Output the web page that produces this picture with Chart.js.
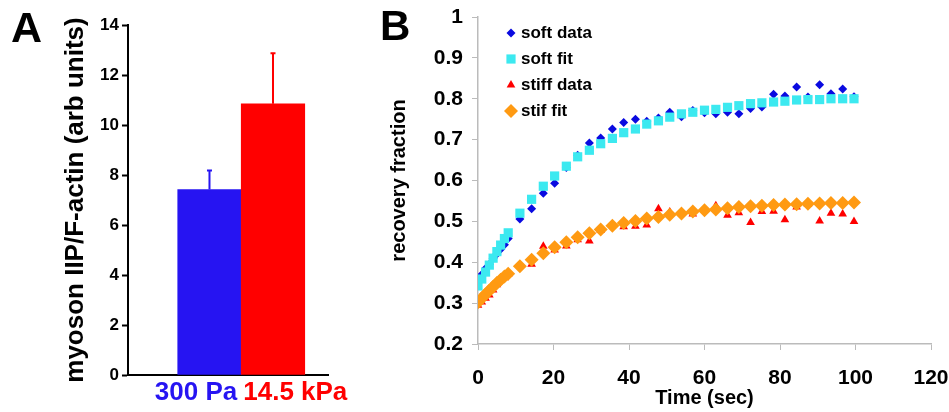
<!DOCTYPE html>
<html>
<head>
<meta charset="utf-8">
<script src="https://cdn.jsdelivr.net/npm/chart.js@4.4.0/dist/chart.umd.min.js"></script>
<style>
  html, body { margin: 0; padding: 0; background: #fff; }
  #panelA { position: absolute; left: 0; top: 0; }
  #panelB { position: absolute; left: 375px; top: 0; }
</style>
</head>
<body>
<canvas id="panelA" width="375" height="412"></canvas>
<canvas id="panelB" width="574" height="412"></canvas>
<script>
// Panel A: barras
const categorias = ['300 Pa', '14.5 kPa'];
const miosina = [7.42, 10.85];
const errores = [0.76, 2.02];
const coloresBarras = ['#2614f2', '#ff0000'];

// Panel B: recuperacion (tiempo en seg)
const tiempos = [0, 1, 2, 3, 4, 5, 6, 7, 8,
  11.1, 14.2, 17.3, 20.3, 23.4, 26.4, 29.5, 32.5, 35.6, 38.6,
  41.7, 44.7, 47.8, 50.8, 53.9, 56.9, 60.0, 63.0, 66.1, 69.1,
  72.2, 75.2, 78.3, 81.3, 84.4, 87.4, 90.5, 93.5, 96.6, 99.6];
const blandoDatos = [0.352, 0.370, 0.385, 0.395, 0.410, 0.420, 0.432, 0.443, 0.458,
  0.506, 0.531, 0.569, 0.593, 0.632, 0.662, 0.692, 0.704, 0.726, 0.742,
  0.750, 0.745, 0.753, 0.767, 0.756, 0.771, 0.766, 0.763, 0.767, 0.763,
  0.776, 0.780, 0.811, 0.807, 0.829, 0.804, 0.834, 0.812, 0.824, 0.805];
const blandoAjuste = [0.342, 0.359, 0.376, 0.393, 0.410, 0.426, 0.442, 0.458, 0.472,
  0.520, 0.554, 0.586, 0.611, 0.635, 0.658, 0.674, 0.690, 0.703, 0.717,
  0.726, 0.738, 0.746, 0.755, 0.763, 0.767, 0.772, 0.774, 0.779, 0.783,
  0.788, 0.790, 0.792, 0.794, 0.797, 0.798, 0.798, 0.800, 0.800, 0.800];
const rigidoDatos = [0.295, 0.303, 0.312, 0.320, 0.332, 0.345, 0.358, 0.362, 0.370,
  0.393, 0.395, 0.439, 0.430, 0.440, 0.455, 0.452, 0.478, 0.492, 0.487,
  0.488, 0.491, 0.531, 0.523, 0.519, 0.518, 0.530, 0.538, 0.515, 0.521,
  0.497, 0.524, 0.525, 0.504, 0.535, 0.541, 0.501, 0.520, 0.518, 0.500];
const rigidoAjuste = [0.302, 0.312, 0.322, 0.331, 0.340, 0.349, 0.357, 0.365, 0.372,
  0.390, 0.406, 0.422, 0.437, 0.449, 0.461, 0.471, 0.480, 0.489, 0.496,
  0.501, 0.507, 0.511, 0.516, 0.519, 0.524, 0.527, 0.529, 0.532, 0.535,
  0.537, 0.538, 0.540, 0.541, 0.542, 0.543, 0.544, 0.545, 0.545, 0.546];
const nombresSeries = ['soft data', 'soft fit', 'stiff data', 'stif fit'];
const ticksY = [0.2, 0.3, 0.4, 0.5, 0.6, 0.7, 0.8, 0.9, 1];

const fuente = "'Liberation Sans', Arial, Helvetica, sans-serif";

// Utilidades
function puntos(valores) {
  return tiempos.map((t, i) => ({ x: t, y: valores[i] }));
}

const barrasError = {
  id: 'barrasError',
  afterDatasetsDraw(chart) {
    const ctx = chart.ctx;
    const y = chart.scales.y;
    const meta = chart.getDatasetMeta(0);
    ctx.save();
    ctx.lineWidth = 2;
    meta.data.forEach((bar, i) => {
      const arriba = y.getPixelForValue(miosina[i] + errores[i]);
      ctx.strokeStyle = coloresBarras[i];
      ctx.beginPath();
      ctx.moveTo(bar.x, bar.y);
      ctx.lineTo(bar.x, arriba);
      ctx.moveTo(bar.x - 2.5, arriba);
      ctx.lineTo(bar.x + 2.5, arriba);
      ctx.stroke();
    });
    ctx.restore();
  }
};

const etiquetasA = {
  id: 'etiquetasA',
  afterDraw(chart) {
    const { ctx, chartArea } = chart;
    const x = chart.scales.x;
    const medio = (x.getPixelForValue(0) + x.getPixelForValue(1)) / 2;
    ctx.save();
    ctx.font = 'bold 26px ' + fuente;
    ctx.textBaseline = 'middle';
    ctx.fillStyle = coloresBarras[0];
    ctx.textAlign = 'right';
    ctx.fillText(categorias[0], medio - 4, chartArea.bottom + 18);
    ctx.fillStyle = coloresBarras[1];
    ctx.textAlign = 'left';
    ctx.fillText(categorias[1], medio + 2, chartArea.bottom + 18);
    ctx.fillStyle = '#000';
    ctx.textBaseline = 'alphabetic';
    ctx.font = 'bold 43px ' + fuente;
    ctx.fillText('A', 11, 42);
    ctx.restore();
  }
};

const leyendaB = {
  id: 'leyendaB',
  afterDraw(chart) {
    const { ctx, chartArea } = chart;
    ctx.save();
    ctx.font = 'bold 17px ' + fuente;
    ctx.textBaseline = 'middle';
    ctx.textAlign = 'left';
    chart.data.datasets.forEach((ds, i) => {
      const yy = chartArea.top + 16 + 26 * i;
      const xx = chartArea.left + 33;
      ctx.fillStyle = ds.pointBackgroundColor;
      Chart.helpers.drawPoint(ctx, { pointStyle: ds.pointStyle, radius: ds.pointRadius, rotation: 0, borderWidth: 0 }, xx, yy);
      ctx.fillStyle = '#000';
      ctx.fillText(ds.label, xx + 10, yy);
    });
    ctx.font = 'bold 42px ' + fuente;
    ctx.textBaseline = 'alphabetic';
    ctx.fillText('B', 5, 40);
    ctx.restore();
  }
};

// Panel A
new Chart(document.getElementById('panelA'), {
  type: 'bar',
  data: {
    datasets: [{
      data: miosina.map((v, i) => ({ x: i, y: v })),
      backgroundColor: coloresBarras,
      borderWidth: 0,
      categoryPercentage: 1,
      barPercentage: 1
    }]
  },
  options: {
    responsive: false,
    animation: false,
    devicePixelRatio: 1,
    layout: { padding: { left: 56, top: 25, right: 47, bottom: 0 } },
    plugins: { legend: { display: false }, tooltip: { enabled: false } },
    scales: {
      x: {
        type: 'linear', min: -1.283, max: 1.866, offset: false,
        grid: { display: false, offset: false },
        border: { color: '#000', width: 2 },
        ticks: { display: false },
        afterBuildTicks: s => { s.ticks = categorias.map((c, i) => ({ value: i })); },
        afterFit: s => { s.height = 37; }
      },
      y: {
        min: 0, max: 14,
        ticks: { stepSize: 2, color: '#000', padding: 3, font: { family: fuente, size: 17, weight: 'bold' } },
        grid: { drawOnChartArea: false, color: '#000', tickLength: 6, tickWidth: 2 },
        border: { color: '#000', width: 2 },
        title: {
          display: true, text: 'myoson IIP/F-actin (arb units)', color: '#000',
          padding: { top: 4, bottom: 4 },
          font: { family: fuente, size: 26, weight: 'bold' }
        },
        afterFit: s => { s.width = 72; }
      }
    }
  },
  plugins: [barrasError, etiquetasA]
});

// Panel B
const seriesB = [blandoDatos, blandoAjuste, rigidoDatos, rigidoAjuste];
const estilosB = [
  { pointStyle: 'rectRot', pointRadius: 4.5, pointBackgroundColor: '#0a0ae0', order: 4 },
  { pointStyle: 'rect', pointRadius: 6.5, pointBackgroundColor: '#3ce9f0', order: 3 },
  { pointStyle: 'triangle', pointRadius: 5, pointBackgroundColor: '#ff0000', order: 2 },
  { pointStyle: 'rectRot', pointRadius: 7, pointBackgroundColor: '#ff9a12', order: 1 }
];

new Chart(document.getElementById('panelB'), {
  type: 'scatter',
  data: {
    datasets: seriesB.map((s, i) => Object.assign({
      label: nombresSeries[i],
      data: puntos(s),
      pointBorderWidth: 0,
      pointHoverRadius: estilosB[i].pointRadius,
      showLine: false
    }, estilosB[i]))
  },
  options: {
    responsive: false,
    animation: false,
    devicePixelRatio: 1,
    layout: { padding: { left: 8.4, top: 17, right: 18, bottom: 0 } },
    plugins: { legend: { display: false }, tooltip: { enabled: false } },
    scales: {
      x: {
        type: 'linear', min: 0, max: 120,
        ticks: { stepSize: 20, color: '#000', padding: 16, maxRotation: 0, font: { family: fuente, size: 21, weight: 'bold' } },
        grid: { drawOnChartArea: false, color: '#bbbbbb', tickLength: 6 },
        border: { color: '#bbbbbb', width: 1.5 },
        title: {
          display: true, text: 'Time (sec)', color: '#000',
          padding: { top: 0, bottom: 2 },
          font: { family: fuente, size: 20, weight: 'bold' }
        },
        afterFit: s => { s.height = 68; s.paddingLeft = 0; s.paddingRight = 0; }
      },
      y: {
        min: 0.2, max: 1,
        afterBuildTicks: s => { s.ticks = ticksY.map(v => ({ value: v })); },
        ticks: {
          color: '#000', padding: 9,
          callback: v => String(+v.toFixed(1)),
          font: { family: fuente, size: 21, weight: 'bold' }
        },
        grid: { drawOnChartArea: false, color: '#bbbbbb', tickLength: 6 },
        border: { color: '#bbbbbb', width: 1.5 },
        title: {
          display: true, text: 'recovery fraction', color: '#000',
          padding: { top: 4, bottom: 4 },
          font: { family: fuente, size: 20, weight: 'bold' }
        },
        afterFit: s => { s.width = 94.6; s.paddingTop = 0; s.paddingBottom = 0; }
      }
    }
  },
  plugins: [leyendaB]
});
</script>
</body>
</html>
